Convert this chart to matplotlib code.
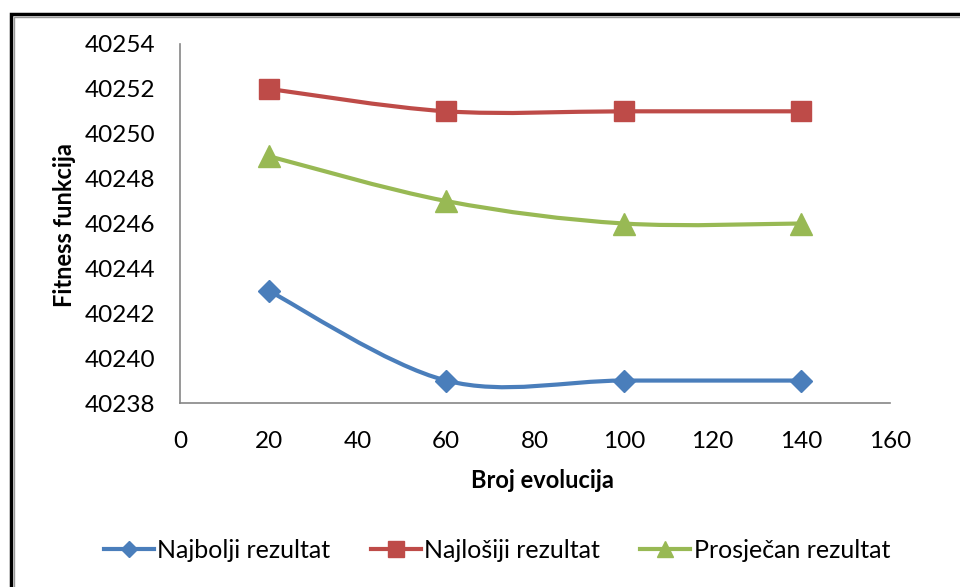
import numpy as np
import matplotlib
matplotlib.use("Agg")
import matplotlib.pyplot as plt
from matplotlib.path import Path
from matplotlib.patches import PathPatch, Rectangle
from matplotlib.lines import Line2D

plt.rcParams['font.family'] = ['Lato', 'DejaVu Sans']

x_vals = [20, 60, 100, 140]
najbolji = [40243, 40239, 40239, 40239]
najlosiji = [40252, 40251, 40251, 40251]
prosjecan = [40249, 40247, 40246, 40246]
series_names = ["Najbolji rezultat", "Najlošiji rezultat", "Prosječan rezultat"]
colors = ["#4A7EBB", "#BE4B48", "#98B954"]
markers = ["D", "s", "^"]
msizes = [11, 14, 16]
leg_msizes = [8, 11, 12]
x_ticks = [0, 20, 40, 60, 80, 100, 120, 140, 160]
y_ticks = [40238, 40240, 40242, 40244, 40246, 40248, 40250, 40252, 40254]

fig = plt.figure(figsize=(9.6, 5.87), dpi=100)
ax = fig.add_axes([180/960, 1-403/587, (890-180)/960, (403-44)/587])


def smooth_path(xs, ys):
    pts = np.column_stack([xs, ys]).astype(float)
    n = len(pts)
    verts = [pts[0]]
    codes = [Path.MOVETO]
    for i in range(n - 1):
        p0 = pts[i - 1] if i > 0 else pts[i]
        p1 = pts[i]
        p2 = pts[i + 1]
        p3 = pts[i + 2] if i + 2 < n else pts[i + 1]
        c1 = p1 + (p2 - p0) / 6.0
        c2 = p2 - (p3 - p1) / 6.0
        verts += [c1, c2, p2]
        codes += [Path.CURVE4] * 3
    return Path(verts, codes)


for ys, c, m, ms in zip([najbolji, najlosiji, prosjecan], colors, markers, msizes):
    patch = PathPatch(smooth_path(x_vals, ys), facecolor='none', edgecolor=c,
                      lw=3, capstyle='round', joinstyle='round', zorder=2)
    ax.add_patch(patch)
    ax.plot(x_vals, ys, linestyle='none', marker=m, markersize=ms, color=c,
            markeredgecolor=c, zorder=3)

ax.set_xlim(0, 160)
ax.set_ylim(40238, 40254)
ax.set_xticks(x_ticks)
ax.set_yticks(y_ticks)
ax.tick_params(length=0, labelsize=17.5, colors='black')
ax.tick_params(axis='y', pad=18)
ax.tick_params(axis='x', pad=20)
for s in ['top', 'right']:
    ax.spines[s].set_visible(False)
for s in ['left', 'bottom']:
    ax.spines[s].set_color('#868686')
    ax.spines[s].set_linewidth(1.2)

fig.text(542/960, 1-480/587, "Broj evolucija", fontsize=17, fontweight='bold',
         ha='center', va='center')
fig.text(64/960, 1-225/587, "Fitness funkcija", fontsize=17, fontweight='bold',
         ha='center', va='center', rotation=90)

handles = [Line2D([], [], color=c, lw=3, marker=m, markersize=ms)
           for c, m, ms in zip(colors, markers, leg_msizes)]
fig.legend(handles, series_names, loc='center', bbox_to_anchor=(497/960, 1-550/587),
           ncol=3, frameon=False, fontsize=18, handlelength=2.0, handletextpad=0.15,
           columnspacing=1.6)

# outer frame
fig.patches.append(Rectangle((11/960, -0.2), 2, 1.2 - 14/587, transform=fig.transFigure,
                             fill=False, edgecolor='black', lw=2.5))
fig.patches.append(Rectangle((14/960, -0.2), 2, 1.2 - 17/587, transform=fig.transFigure,
                             fill=False, edgecolor='#999999', lw=1))

fig.savefig("out.png", dpi=100)
